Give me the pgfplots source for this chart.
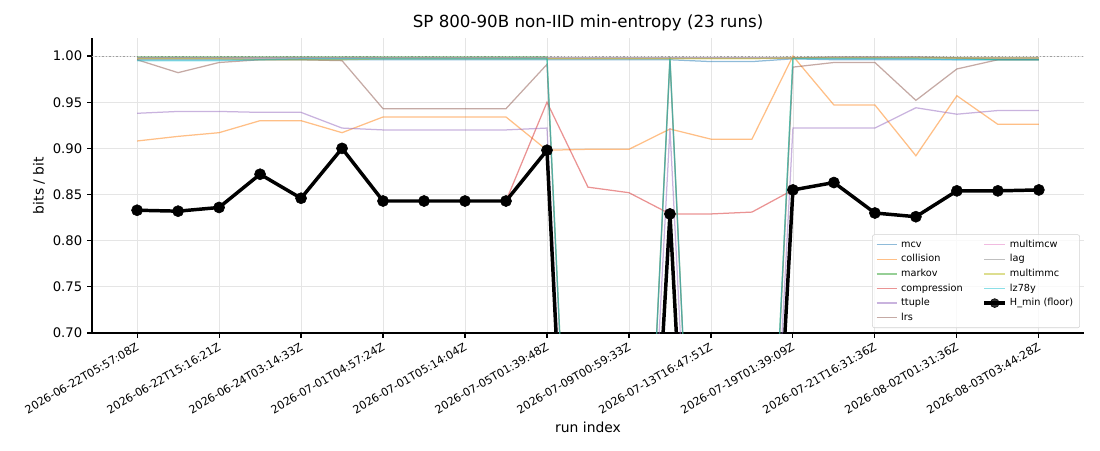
\documentclass[border=0pt]{standalone}
\usepackage{fontspec}
\setmainfont{DejaVu Sans}
\usepackage{pgfplots}
\pgfplotsset{compat=1.18}
\usepackage{pgfplotstable}

\definecolor{tabblue}{HTML}{1F77B4}
\definecolor{taborange}{HTML}{FF7F0E}
\definecolor{tabgreen}{HTML}{2CA02C}
\definecolor{tabred}{HTML}{D62728}
\definecolor{tabpurple}{HTML}{9467BD}
\definecolor{tabbrown}{HTML}{8C564B}
\definecolor{tabpink}{HTML}{E377C2}
\definecolor{tabgray}{HTML}{7F7F7F}
\definecolor{tabolive}{HTML}{BCBD22}
\definecolor{tabcyan}{HTML}{17BECF}

\pgfplotstableread{
idx mcv collision markov compression ttuple lrs multimcw lag multimmc lz78y hmin
0  0.996 0.908 0.999 0.833 0.938 0.996 0.998 0.998 0.997 0.995 0.833
1  0.996 0.913 0.999 0.832 0.940 0.982 0.998 0.998 0.997 0.995 0.832
2  0.996 0.917 0.999 0.836 0.940 0.993 0.998 0.998 0.997 0.995 0.836
3  0.996 0.930 0.999 0.872 0.939 0.996 0.998 0.998 0.996 0.996 0.872
4  0.996 0.930 0.999 0.846 0.939 0.996 0.998 0.998 0.996 0.997 0.846
5  0.996 0.917 0.999 0.900 0.922 0.995 0.998 0.998 0.996 0.997 0.900
6  0.996 0.934 0.999 0.843 0.920 0.943 0.998 0.998 0.997 0.997 0.843
7  0.996 0.934 0.999 0.843 0.920 0.943 0.998 0.998 0.997 0.997 0.843
8  0.996 0.934 0.999 0.843 0.920 0.943 0.998 0.998 0.997 0.997 0.843
9  0.996 0.934 0.999 0.843 0.920 0.943 0.998 0.998 0.997 0.997 0.843
10 0.996 0.898 0.999 0.950 0.922 0.991 0.998 0.998 0.997 0.997 0.898
11 0.996 0.899 0.040 0.858 0.040 0.040 0.998 0.998 0.997 0.040 0.000
12 0.996 0.899 0.080 0.852 0.080 0.080 0.998 0.998 0.997 0.080 0.060
13 0.996 0.921 0.999 0.829 0.922 0.995 0.998 0.998 0.997 0.997 0.829
14 0.994 0.910 0.040 0.829 0.040 0.040 0.998 0.998 0.997 0.040 0.000
15 0.994 0.910 0.080 0.831 0.080 0.080 0.998 0.998 0.997 0.080 0.060
16 0.997 1.000 0.998 0.855 0.922 0.988 0.998 0.998 0.998 0.997 0.855
17 0.996 0.947 0.999 0.863 0.922 0.993 0.999 0.998 0.998 0.997 0.863
18 0.996 0.947 0.999 0.830 0.922 0.993 0.999 0.998 0.998 0.997 0.830
19 0.996 0.892 0.999 0.826 0.944 0.952 0.999 0.998 0.998 0.997 0.826
20 0.996 0.957 0.998 0.854 0.937 0.986 0.998 0.998 0.998 0.996 0.854
21 0.996 0.926 0.996 0.854 0.941 0.996 0.998 0.998 0.998 0.996 0.854
22 0.996 0.926 0.996 0.855 0.941 0.996 0.998 0.998 0.998 0.996 0.855
}\data

\begin{document}
\begin{tikzpicture}
\path[use as bounding box] (0,0) rectangle (792pt,324pt);
\begin{axis}[
  at={(66.24pt,84.2pt)}, anchor=south west,
  scale only axis, width=714.2pt, height=212.4pt,
  xmin=-1.1, xmax=23.1, ymin=0.70, ymax=1.0195,
  axis x line*=bottom, axis y line*=left,
  axis line style={line width=0.8pt, -},
  tick align=outside, major tick length=3.5pt,
  tick style={line width=0.8pt, black},
  xtick={0,2,...,22},
  xticklabels={2026-06-22T05:57:08Z,2026-06-22T15:16:21Z,2026-06-24T03:14:33Z,2026-07-01T04:57:24Z,2026-07-01T05:14:04Z,2026-07-05T01:39:48Z,2026-07-09T00:59:33Z,2026-07-13T16:47:51Z,2026-07-19T01:39:09Z,2026-07-21T16:31:36Z,2026-08-02T01:31:36Z,2026-08-03T03:44:28Z},
  xticklabel style={font=\fontsize{8}{9.6}\selectfont, rotate=30, anchor=north east, inner sep=1pt, xshift=-1.5pt, yshift=-1pt},
  ytick={0.70,0.75,0.80,0.85,0.90,0.95,1.00},
  yticklabel style={font=\fontsize{9.5}{11}\selectfont, /pgf/number format/.cd, fixed, fixed zerofill, precision=2, assume math mode=true},
  grid=major, major grid style={gray!20, line width=0.6pt},
  clip marker paths=true,
  legend columns=2,
  legend cell align=left,
  legend style={at={(0.996,0.017)}, anchor=south east, font=\fontsize{7}{8}\selectfont,
    draw=gray!35, rounded corners=1.5pt, fill=white, fill opacity=0.8, text opacity=1,
    inner xsep=2.5pt, inner ysep=2pt, row sep=0pt,
    /tikz/every even column/.append style={column sep=12pt},
    nodes={inner xsep=2.2pt, inner ysep=1.75pt, text height=5.4pt, text depth=1.6pt}},
  legend image code/.code={\draw[#1] (0cm,0cm) -- (0.53cm,0cm);},
]
\addplot[gray!75, line width=0.7pt, dash pattern=on 0.9pt off 1.6pt, forget plot] coordinates {(-1.1,1.0) (23.1,1.0)};
\addplot[tabblue, opacity=0.5, line width=0.9pt, forget plot] table[x=idx, y=mcv] {\data};
\addplot[taborange, opacity=0.5, line width=0.9pt, forget plot] table[x=idx, y=collision] {\data};
\addplot[tabgreen, opacity=0.5, line width=0.9pt, forget plot] table[x=idx, y=markov] {\data};
\addplot[tabred, opacity=0.5, line width=0.9pt, forget plot] table[x=idx, y=compression] {\data};
\addplot[tabpurple, opacity=0.5, line width=0.9pt, forget plot] table[x=idx, y=ttuple] {\data};
\addplot[tabbrown, opacity=0.5, line width=0.9pt, forget plot] table[x=idx, y=lrs] {\data};
\addplot[tabpink, opacity=0.5, line width=0.9pt, forget plot] table[x=idx, y=multimcw] {\data};
\addplot[tabgray, opacity=0.5, line width=0.9pt, forget plot] table[x=idx, y=lag] {\data};
\addplot[tabolive, opacity=0.5, line width=0.9pt, forget plot] table[x=idx, y=multimmc] {\data};
\addplot[tabcyan, opacity=0.5, line width=0.9pt, forget plot] table[x=idx, y=lz78y] {\data};
\addplot[black, line width=2.5pt, mark=*, mark size=4pt, mark options={line width=0.4pt}, forget plot] table[x=idx, y=hmin] {\data};

\addlegendimage{color=tabblue!50!white, line width=0.9pt}
\addlegendentry{mcv}
\addlegendimage{color=tabpink!50!white, line width=0.9pt}
\addlegendentry{multimcw}
\addlegendimage{color=taborange!50!white, line width=0.9pt}
\addlegendentry{collision}
\addlegendimage{color=tabgray!50!white, line width=0.9pt}
\addlegendentry{lag}
\addlegendimage{color=tabgreen!50!white, line width=0.9pt}
\addlegendentry{markov}
\addlegendimage{color=tabolive!50!white, line width=0.9pt}
\addlegendentry{multimmc}
\addlegendimage{color=tabred!50!white, line width=0.9pt}
\addlegendentry{compression}
\addlegendimage{color=tabcyan!50!white, line width=0.9pt}
\addlegendentry{lz78y}
\addlegendimage{color=tabpurple!50!white, line width=0.9pt}
\addlegendentry{ttuple}
\addlegendimage{legend image code/.code={\draw[black, line width=2.5pt] (0cm,0cm) -- (0.53cm,0cm); \fill[black] (0.265cm,0cm) circle (3.2pt);}}
\addlegendentry{H\_min (floor)}
\addlegendimage{color=tabbrown!50!white, line width=0.9pt}
\addlegendentry{lrs}
\end{axis}
\node[font=\fontsize{12}{14}\selectfont] at (423.4pt,307.4pt) {SP 800-90B non-IID min-entropy (23 runs)};
\node[font=\fontsize{10}{12}\selectfont] at (423.4pt,16.6pt) {run index};
\node[font=\fontsize{10}{12}\selectfont, rotate=90] at (28.1pt,190.4pt) {bits / bit};
\end{tikzpicture}
\end{document}
